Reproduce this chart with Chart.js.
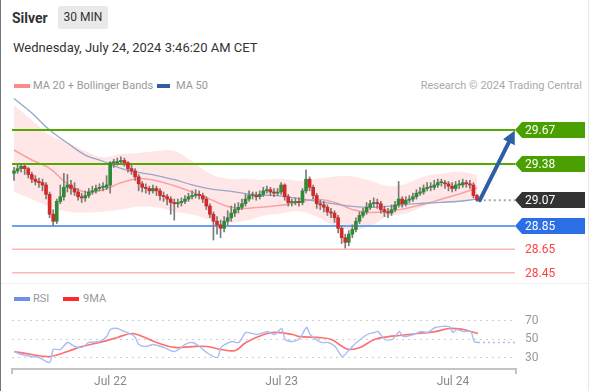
<!DOCTYPE html>
<html><head><meta charset="utf-8">
<script src="https://cdn.jsdelivr.net/npm/chart.js@4.4.0/dist/chart.umd.min.js"></script>
<style>
html,body{margin:0;padding:0;background:#fff;}
body{width:592px;height:391px;position:relative;overflow:hidden;font-family:Roboto,"Liberation Sans",Arial,sans-serif;}
.abs{position:absolute;white-space:nowrap;}
canvas{position:absolute;left:0;}
</style></head><body>
<div class="abs" style="left:0;top:0;width:1px;height:391px;background:#777"></div>
<div class="abs" style="left:588px;top:0;width:1px;height:391px;background:#e8e8e8"></div>
<div class="abs" style="left:1px;top:283px;width:587px;height:1px;background:#efefef"></div>
<div class="abs" style="left:12px;top:10px;font-size:14px;font-weight:bold;color:#333;line-height:17px">Silver</div>
<div class="abs" style="left:58px;top:6px;width:50px;height:23px;background:#e9e9e9;border-radius:2px;font-size:12px;color:#333;line-height:23px;text-align:center">30 MIN</div>
<div class="abs" style="left:13px;top:40px;font-size:13px;color:#333;line-height:16px">Wednesday, July 24, 2024 3:46:20 AM CET</div>
<div class="abs" style="left:14px;top:84px;width:16px;height:4px;background:#ff8a8a"></div>
<div class="abs" style="left:33px;top:79px;font-size:11px;color:#999;line-height:14px">MA 20 + Bollinger Bands</div>
<div class="abs" style="left:157px;top:84px;width:13px;height:4px;background:#2f5ea5"></div>
<div class="abs" style="left:176px;top:79px;font-size:11px;color:#999;line-height:14px">MA 50</div>
<div class="abs" style="right:10px;top:79px;font-size:11px;color:#aaa;line-height:14px">Research © 2024 Trading Central</div>
<div class="abs" style="left:14px;top:297px;width:16px;height:4px;background:#6f90e8"></div>
<div class="abs" style="left:33px;top:292px;font-size:11px;color:#999;line-height:14px">RSI</div>
<div class="abs" style="left:63px;top:297px;width:16px;height:4px;background:#ff2a2a"></div>
<div class="abs" style="left:83px;top:292px;font-size:11px;color:#999;line-height:14px">9MA</div>
<canvas id="main" width="592" height="190" style="top:90px"></canvas>
<canvas id="rsi" width="592" height="108" style="top:283px"></canvas>
<script>
// ---------- DATA ----------
const opens = [29.30,29.32,29.34,29.36,29.34,29.29,29.25,29.23,29.22,29.20,
29.12,28.95,28.89,29.06,29.10,29.18,29.20,29.17,29.14,29.10,
29.09,29.11,29.14,29.15,29.17,29.18,29.18,29.20,29.39,29.39,
29.40,29.41,29.39,29.34,29.32,29.27,29.21,29.18,29.17,29.15,
29.17,29.15,29.11,29.10,29.08,29.05,29.04,29.05,29.06,29.08,
29.10,29.11,29.12,29.11,29.08,29.02,28.95,28.89,28.86,28.83,
28.89,28.92,28.96,28.99,29.01,29.04,29.08,29.11,29.11,29.10,
29.12,29.15,29.16,29.14,29.13,29.14,29.20,29.10,29.05,29.05,
29.06,29.05,29.15,29.25,29.18,29.11,29.04,29.03,29.01,28.97,
28.96,28.92,28.83,28.75,28.71,28.78,28.82,28.89,28.94,28.97,
29.01,29.04,29.05,29.04,28.99,28.97,28.96,28.99,29.03,29.08,
29.04,29.07,29.08,29.10,29.13,29.14,29.17,29.18,29.18,29.20,
29.22,29.22,29.21,29.19,29.17,29.20,29.20,29.22,29.21,29.20,
29.11];
const highs = [29.35,29.37,29.38,29.37,29.35,29.31,29.28,29.26,29.25,29.22,
29.14,28.99,29.08,29.20,29.30,29.29,29.24,29.22,29.17,29.13,
29.15,29.17,29.19,29.20,29.21,29.22,29.28,29.40,29.42,29.43,
29.44,29.43,29.40,29.37,29.34,29.29,29.23,29.21,29.19,29.20,
29.19,29.17,29.14,29.12,29.10,29.08,29.08,29.09,29.11,29.13,
29.15,29.16,29.15,29.13,29.10,29.04,28.97,28.93,28.90,28.93,
28.98,29.02,29.04,29.05,29.08,29.12,29.15,29.14,29.14,29.15,
29.18,29.19,29.18,29.17,29.17,29.22,29.21,29.12,29.08,29.09,
29.09,29.17,29.33,29.27,29.20,29.13,29.07,29.06,29.03,29.00,
28.98,28.94,28.85,28.78,28.81,28.86,28.92,28.97,29.00,29.05,
29.07,29.09,29.08,29.06,29.02,29.00,29.03,29.06,29.23,29.10,
29.10,29.11,29.13,29.16,29.18,29.20,29.22,29.22,29.24,29.25,
29.25,29.24,29.23,29.22,29.23,29.24,29.25,29.24,29.24,29.22,
29.12];
const lows = [29.24,29.30,29.31,29.29,29.26,29.22,29.20,29.18,29.15,29.08,
28.92,28.85,28.87,29.04,29.07,29.14,29.12,29.11,29.07,29.05,
29.06,29.09,29.12,29.13,29.15,29.15,29.16,29.13,29.35,29.37,
29.38,29.36,29.31,29.29,29.24,29.15,29.14,29.13,29.12,29.13,
29.11,29.07,29.06,29.03,28.95,28.90,29.01,29.02,29.04,29.06,
29.08,29.09,29.08,29.05,28.99,28.92,28.73,28.78,28.75,28.80,
28.86,28.89,28.93,28.96,28.99,29.02,29.06,29.08,29.07,29.08,
29.10,29.13,29.11,29.10,29.11,29.12,29.07,29.02,29.02,29.03,
29.02,29.03,29.13,29.15,29.08,29.00,28.99,28.97,28.94,28.92,
28.88,28.79,28.70,28.66,28.68,28.75,28.80,28.87,28.92,28.95,
28.99,29.01,29.00,28.96,28.93,28.92,28.94,28.97,29.01,29.01,
29.02,29.05,29.06,29.08,29.11,29.12,29.15,29.15,29.16,29.18,
29.19,29.17,29.15,29.14,29.15,29.17,29.18,29.18,29.17,29.09,
29.06];
const closes = [29.32,29.34,29.36,29.34,29.29,29.25,29.23,29.22,29.20,29.12,
28.95,28.89,29.06,29.10,29.18,29.20,29.17,29.14,29.10,29.09,
29.11,29.14,29.15,29.17,29.18,29.18,29.20,29.39,29.39,29.40,
29.41,29.39,29.34,29.32,29.27,29.21,29.18,29.17,29.15,29.17,
29.15,29.11,29.10,29.08,29.05,29.04,29.05,29.06,29.08,29.10,
29.11,29.12,29.11,29.08,29.02,28.95,28.89,28.86,28.83,28.89,
28.92,28.96,28.99,29.01,29.04,29.08,29.11,29.11,29.10,29.12,
29.15,29.16,29.14,29.13,29.14,29.20,29.10,29.05,29.05,29.06,
29.05,29.15,29.25,29.18,29.11,29.04,29.03,29.01,28.97,28.96,
28.92,28.83,28.75,28.71,28.78,28.82,28.89,28.94,28.97,29.01,
29.04,29.05,29.04,28.99,28.97,28.96,28.99,29.03,29.08,29.04,
29.07,29.08,29.10,29.13,29.14,29.17,29.18,29.18,29.20,29.22,
29.22,29.21,29.19,29.17,29.20,29.20,29.22,29.21,29.20,29.11,
29.07];

// indicator samples (candle index -> value)
const maIdx = [0,5,10,15,20,25,30,35,40,45,50,55,60,65,70,75,80,85,90,95,100,105,110,115,120,125,130];
const ma50 = [29.94,29.815,29.67,29.559,29.456,29.403,29.342,29.307,29.281,29.245,29.202,29.166,29.149,29.127,29.114,29.105,29.083,29.061,29.039,29.017,29.009,29.017,29.035,29.044,29.052,29.061,29.079];
const ma20 = [29.499,29.414,29.342,29.21,29.14,29.158,29.219,29.254,29.237,29.193,29.14,29.079,29.017,29.0,29.013,29.026,29.052,29.079,29.052,28.991,28.965,28.974,29.0,29.035,29.079,29.123,29.175];
const bbUpper = [29.884,29.755,29.627,29.566,29.491,29.438,29.465,29.474,29.491,29.491,29.403,29.298,29.254,29.254,29.245,29.254,29.237,29.254,29.272,29.272,29.237,29.193,29.21,29.272,29.298,29.316,29.289];
const bbLower = [29.14,29.079,29.017,28.974,28.965,28.974,28.991,29.017,29.009,28.974,28.947,28.903,28.877,28.894,28.938,28.956,28.974,28.93,28.851,28.816,28.851,28.93,28.956,29.017,29.052,29.061,29.088];

// price levels (targets / last / support / minor)
const levelValues = [29.67, 29.38, 29.07, 28.85, 28.65, 28.45];
const lastIdx = 130;
const arrowFrom = [130.8, 29.07];
const arrowTo = [140.6, 29.665];

// RSI panel
const rsiIdx = [0,2,5,7,10,11,13,15,17,19,21,24,26,27,29,31,33,34,35,37,39,42,45,48,50,52,54,57,58,61,63,65,68,71,73,75,76,78,80,82,83,86,88,90,92,94,96,99,101,102,104,106,108,109,112,114,116,118,122,123,124,126,128,129,130];
const rsiVal = [37.0,33.8,31.6,30.5,25.1,39.2,39.2,46.8,42.4,41.4,46.8,47.8,53.2,60.8,61.9,58.6,55.4,52.2,44.6,42.4,44.6,41.4,37.0,44.6,46.8,42.4,35.9,30.5,41.4,47.8,46.8,57.6,55.4,58.6,55.4,61.9,50.0,47.8,51.1,63.0,55.4,46.8,46.8,42.4,31.6,39.2,46.8,55.4,57.6,58.6,50.0,50.0,58.6,53.2,55.4,58.6,57.6,63.0,64.0,57.6,60.8,58.6,58.6,47.8,46.8];
const ma9Idx = [0,5,10,15,19,24,29,33,36,40,45,50,54,58,62,65,70,73,78,80,85,89,92,94,97,101,105,108,113,118,122,126,128,130];
const ma9Val = [37.0,33.8,31.6,37.0,42.4,46.8,52.2,56.5,53.2,46.8,41.4,42.4,42.4,39.2,38.1,46.8,55.4,57.6,55.4,53.2,52.2,50.0,42.4,39.2,41.4,50.0,53.2,54.3,56.5,58.6,61.9,60.8,58.6,56.5];
const rsiTicks = [30, 50, 70];
const dayIdx = [27, 75, 123];
const dayLabels = ['Jul 22', 'Jul 23', 'Jul 24'];

// ---------- SCALES / STYLES ----------
const X_MIN = -0.56, X_MAX = 140.67;
const Y_MIN = 28.388, Y_MAX = 30.012;
const RSI_MIN = 18.1, RSI_MAX = 87.3;
const GREEN = '#2f8a35', RED = '#d62828';
const levelStyles = [
  {line:'#55a802', width:2, tag:'#4aa000', text:'#fff'},
  {line:'#55a802', width:2, tag:'#4aa000', text:'#fff'},
  {line:'#a8a8a8', width:2, dash:[2,3], tag:'#333333', text:'#fff', fromLast:true},
  {line:'#6f9ff2', width:2, tag:'#2c6ee6', text:'#fff'},
  {line:'#ffb6b6', width:1.5, tag:null, text:'#ff4040'},
  {line:'#ffb6b6', width:1.5, tag:null, text:'#ff4040'}
];

Chart.defaults.font.family = 'Roboto, "Liberation Sans", Arial, sans-serif';
Chart.defaults.animation = false;

const pts = (xs, ys) => xs.map((v, k) => ({x: v, y: ys[k]}));
const idx = closes.map((_, i) => i);

const levelSets = levelValues.map((v, k) => {
  const st = levelStyles[k];
  return {type:'line', data:[{x: st.fromLast ? lastIdx + 0.5 : X_MIN, y: v}, {x: X_MAX, y: v}],
    borderColor: st.line, borderWidth: st.width, borderDash: st.dash || [], pointRadius: 0, order: 3};
});

const tagPlugin = {
  id: 'tags',
  afterDraw(chart) {
    const {ctx, chartArea} = chart;
    const xs = chart.scales.x, ys = chart.scales.y;
    const left = chartArea.right;
    ctx.save();
    ctx.font = '12px Roboto, "Liberation Sans", sans-serif';
    ctx.textBaseline = 'middle';
    levelValues.forEach((v, k) => {
      const st = levelStyles[k];
      const py = Math.round(ys.getPixelForValue(v));
      if (st.tag) {
        ctx.fillStyle = st.tag;
        ctx.beginPath();
        ctx.moveTo(left, py);
        ctx.lineTo(left + 7, py - 8);
        ctx.lineTo(left + 70, py - 8);
        ctx.lineTo(left + 70, py + 8);
        ctx.lineTo(left + 7, py + 8);
        ctx.closePath();
        ctx.fill();
      }
      ctx.fillStyle = st.text;
      ctx.fillText(v.toFixed(2), left + 10, py + 0.5);
    });
    // forecast arrow
    const x1 = xs.getPixelForValue(arrowFrom[0]), y1 = ys.getPixelForValue(arrowFrom[1]);
    const x2 = xs.getPixelForValue(arrowTo[0]), y2 = ys.getPixelForValue(arrowTo[1]);
    const a = Math.atan2(y2 - y1, x2 - x1);
    const hl = 13, hw = 6.5;
    const bx = x2 - Math.cos(a) * hl, by = y2 - Math.sin(a) * hl;
    ctx.strokeStyle = '#2d5fa6';
    ctx.fillStyle = '#2d5fa6';
    ctx.lineWidth = 4;
    ctx.lineCap = 'round';
    ctx.beginPath();
    ctx.moveTo(x1, y1);
    ctx.lineTo(bx + Math.cos(a) * 2, by + Math.sin(a) * 2);
    ctx.stroke();
    ctx.beginPath();
    ctx.moveTo(x2, y2);
    ctx.lineTo(bx - Math.sin(a) * hw, by + Math.cos(a) * hw);
    ctx.lineTo(bx + Math.sin(a) * hw, by - Math.cos(a) * hw);
    ctx.closePath();
    ctx.fill();
    ctx.restore();
  }
};

new Chart(document.getElementById('main'), {
  type: 'line',
  data: {datasets: [
    {type:'bar', data: idx.map(i => ({x: i, y: [opens[i], closes[i]]})),
      backgroundColor: idx.map(i => closes[i] >= opens[i] ? GREEN : RED),
      barThickness: 3, minBarLength: 1, grouped: false, borderWidth: 0, order: 1},
    {type:'bar', data: idx.map(i => ({x: i, y: [lows[i], highs[i]]})),
      backgroundColor: '#7a7a7a', barThickness: 1, grouped: false, borderWidth: 0, order: 2},
    ...levelSets,
    {type:'line', data: pts(maIdx, ma50), borderColor:'#97a6c9', borderWidth:1.3, pointRadius:0, tension:0.4, order:4},
    {type:'line', data: pts(maIdx, ma20), borderColor:'#f7a3a3', borderWidth:1.5, pointRadius:0, tension:0.4, order:5},
    {type:'line', data: pts(maIdx, bbUpper), borderWidth:0, borderColor:'rgba(0,0,0,0)', backgroundColor:'rgba(255,110,110,0.17)', fill:'+1', pointRadius:0, tension:0.4, order:6},
    {type:'line', data: pts(maIdx, bbLower), borderWidth:0, borderColor:'rgba(0,0,0,0)', pointRadius:0, tension:0.4, fill:false, order:7}
  ]},
  options: {
    responsive: false, animation: false, events: [],
    layout: {padding: {left: 12, right: 77, top: 0, bottom: 0}},
    plugins: {legend: {display: false}, tooltip: {enabled: false}},
    scales: {
      x: {type:'linear', min: X_MIN, max: X_MAX, display: false, offset: false},
      y: {type:'linear', min: Y_MIN, max: Y_MAX, display: false}
    }
  },
  plugins: [tagPlugin]
});

const axisEnds = {
  id: 'axisEnds',
  afterDraw(chart) {
    const {ctx, chartArea} = chart;
    ctx.save();
    ctx.strokeStyle = '#c4c4c4';
    ctx.lineWidth = 2;
    ctx.beginPath();
    ctx.moveTo(chartArea.left, chartArea.bottom);
    ctx.lineTo(chartArea.left, chartArea.bottom + 5);
    ctx.moveTo(chartArea.right, chartArea.bottom);
    ctx.lineTo(chartArea.right, chartArea.bottom + 5);
    ctx.stroke();
    ctx.restore();
  }
};

new Chart(document.getElementById('rsi'), {
  type: 'line',
  data: {datasets: [
    {data: pts(rsiIdx, rsiVal), borderColor:'#a7bdf3', borderWidth:1.4, pointRadius:0, tension:0.25},
    {data: pts(ma9Idx, ma9Val), borderColor:'#ff6f6f', borderWidth:1.7, pointRadius:0, tension:0.4},
    {data: [{x: lastIdx, y: rsiVal[rsiVal.length - 1]}, {x: X_MAX, y: rsiVal[rsiVal.length - 1]}],
      borderColor:'#a7bdf3', borderWidth:1.5, borderDash:[2,3], pointRadius:0}
  ]},
  options: {
    responsive: false, animation: false, events: [],
    layout: {padding: {left: 12, right: 20, top: 22, bottom: 0}},
    plugins: {legend: {display: false}, tooltip: {enabled: false}},
    scales: {
      x: {type:'linear', min: X_MIN, max: X_MAX, offset: false,
        grid: {display: false, drawTicks: false},
        border: {display: true, color: '#c4c4c4', width: 2},
        ticks: {autoSkip: false, maxRotation: 0, padding: 6, color: '#888', font: {size: 12},
          callback: v => dayLabels[dayIdx.indexOf(v)] || ''},
        afterBuildTicks: s => { s.ticks = dayIdx.map(v => ({value: v})); },
        afterFit: s => { s.height = 22; }
      },
      y: {position: 'right', min: RSI_MIN, max: RSI_MAX,
        grid: {color: '#cfcfcf', drawTicks: false, lineWidth: 1},
        border: {display: false, dash: [2, 4]},
        ticks: {padding: 9, color: '#999', font: {size: 12}},
        afterBuildTicks: s => { s.ticks = rsiTicks.map(v => ({value: v})); },
        afterFit: s => { s.width = 56; }
      }
    }
  },
  plugins: [axisEnds]
});
</script>
</body></html>
